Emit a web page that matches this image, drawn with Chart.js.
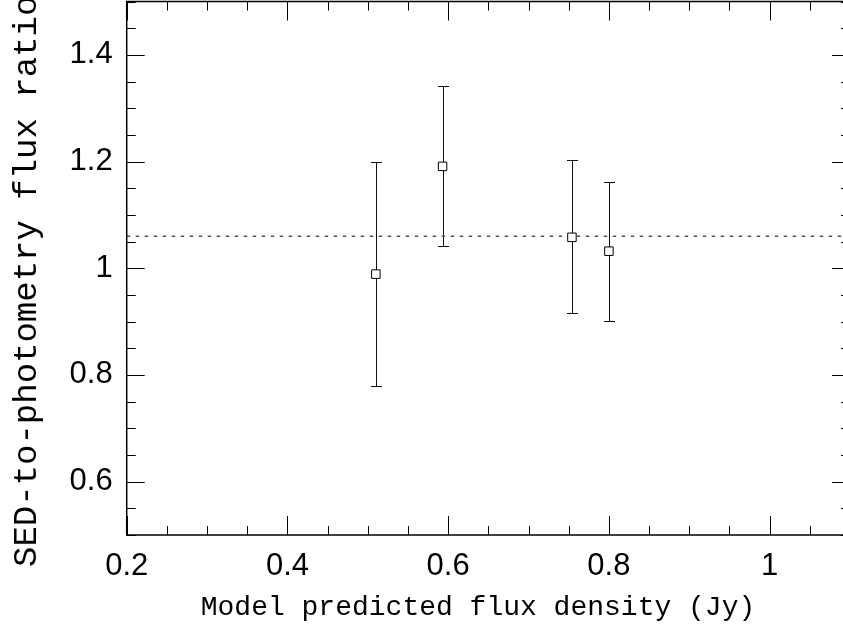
<!DOCTYPE html>
<html>
<head>
<meta charset="utf-8">
<script src="https://cdn.jsdelivr.net/npm/chart.js@4.4.1/dist/chart.umd.min.js"></script>
<style>
  html, body { margin: 0; padding: 0; background: #fff; overflow: hidden; }
  /* plot box runs a few pixels past the right edge of the window, as in the original */
  #wrap { width: 850px; height: 638px; }
</style>
</head>
<body>
<div id="wrap"><canvas id="ratioChart"></canvas></div>
<script>
// --- data ---
const fluxDensity = [0.510, 0.593, 0.754, 0.800];   // Jy
const fluxRatio   = [0.989, 1.191, 1.058, 1.032];
const ratioLow    = [0.779, 1.041, 0.916, 0.902];
const ratioHigh   = [1.199, 1.341, 1.203, 1.161];
const meanRatio   = 1.06;

const xTickValues = [0.2, 0.4, 0.6, 0.8, 1];
const yTickValues = [0.6, 0.8, 1, 1.2, 1.4];
const xRange = [0.2, 1.1];
const yRange = [0.5, 1.5];

const xTitle = 'Model predicted flux density (Jy)';
const yTitle = 'SED-to-photometry flux ratio';

// error bars, drawn under the squares
const errorBars = {
  id: 'errorBars',
  beforeDatasetsDraw(chart) {
    const { ctx, scales: { x, y } } = chart;
    const cap = 5.5;
    ctx.save();
    ctx.strokeStyle = '#111';
    ctx.lineWidth = 1;
    ctx.beginPath();
    fluxDensity.forEach((fx, i) => {
      const px = Math.round(x.getPixelForValue(fx)) + 0.5;
      const top = Math.round(y.getPixelForValue(ratioHigh[i])) + 0.5;
      const bot = Math.round(y.getPixelForValue(ratioLow[i])) + 0.5;
      ctx.moveTo(px, top); ctx.lineTo(px, bot);
      ctx.moveTo(px - cap, top); ctx.lineTo(px + cap, top);
      ctx.moveTo(px - cap, bot); ctx.lineTo(px + cap, bot);
    });
    ctx.stroke();
    ctx.restore();
  }
};

// box with inward ticks on every side + axis titles
const frameTicks = {
  id: 'frameTicks',
  afterDraw(chart) {
    const { ctx, chartArea: a, scales: { x, y } } = chart;
    ctx.save();
    ctx.strokeStyle = '#000';
    ctx.lineWidth = 1.5;
    ctx.strokeRect(a.left, a.top, a.right - a.left, a.bottom - a.top);

    ctx.lineWidth = 1;
    ctx.beginPath();
    for (let i = 4; i <= 22; i++) {          // x every 0.05
      const px = Math.round(x.getPixelForValue(i * 0.05)) + 0.5;
      const len = i % 4 === 0 ? 19 : 9;
      ctx.moveTo(px, a.bottom); ctx.lineTo(px, a.bottom - len);
      ctx.moveTo(px, a.top); ctx.lineTo(px, a.top + len);
    }
    for (let i = 10; i <= 30; i++) {         // y every 0.05
      const py = Math.round(y.getPixelForValue(i * 0.05)) + 0.5;
      const len = i % 4 === 0 ? 18 : 9;
      ctx.moveTo(a.left, py); ctx.lineTo(a.left + len, py);
      ctx.moveTo(a.right, py); ctx.lineTo(a.right - len, py);
    }
    ctx.stroke();

    ctx.fillStyle = '#000';
    ctx.textBaseline = 'middle';
    ctx.font = '28px "Liberation Mono"';
    ctx.textAlign = 'center';
    ctx.fillText(xTitle, 478, 608);

    ctx.font = '34px "Liberation Mono"';
    ctx.textAlign = 'left';
    ctx.translate(27, 567);
    ctx.rotate(-Math.PI / 2);
    ctx.fillText(yTitle, 0, 0);
    ctx.restore();
  }
};

const tickFont = { family: '"Liberation Sans"', size: 31 };

new Chart(document.getElementById('ratioChart'), {
  type: 'scatter',
  data: {
    datasets: [
      {
        label: 'ratio',
        data: fluxDensity.map((fx, i) => ({ x: fx, y: fluxRatio[i] })),
        pointStyle: 'rect',
        pointRadius: 6,
        borderColor: '#000',
        borderWidth: 1,
        backgroundColor: '#fff'
      },
      {
        type: 'line',
        label: 'mean',
        data: [{ x: xRange[0], y: meanRatio }, { x: xRange[1], y: meanRatio }],
        borderColor: '#555',
        borderWidth: 1.5,
        borderDash: [3.5, 5.5],
        pointRadius: 0
      }
    ]
  },
  options: {
    responsive: true,
    maintainAspectRatio: false,
    animation: false,
    layout: { autoPadding: false, padding: { top: 1.5, right: 0, left: 0, bottom: 0 } },
    plugins: { legend: { display: false }, tooltip: { enabled: false } },
    scales: {
      x: {
        type: 'linear',
        min: xRange[0],
        max: xRange[1],
        afterBuildTicks: (s) => { s.ticks = xTickValues.map(v => ({ value: v })); },
        afterFit: (s) => {
          s.height = 103;
          s.paddingLeft = 0; s.paddingRight = 0; s.paddingTop = 0; s.paddingBottom = 0;
        },
        grid: { display: false, drawTicks: false },
        border: { display: false },
        ticks: {
          color: '#000',
          padding: 13,
          maxRotation: 0,
          font: tickFont,
          callback: (v) => String(v)
        }
      },
      y: {
        type: 'linear',
        min: yRange[0],
        max: yRange[1],
        afterBuildTicks: (s) => { s.ticks = yTickValues.map(v => ({ value: v })); },
        afterFit: (s) => {
          s.width = 126.7;
          s.paddingLeft = 0; s.paddingRight = 0; s.paddingTop = 0; s.paddingBottom = 0;
        },
        grid: { display: false, drawTicks: false },
        border: { display: false },
        ticks: {
          color: '#000',
          padding: 14,
          font: tickFont,
          callback: (v) => String(v)
        }
      }
    }
  },
  plugins: [errorBars, frameTicks]
});
</script>
</body>
</html>
